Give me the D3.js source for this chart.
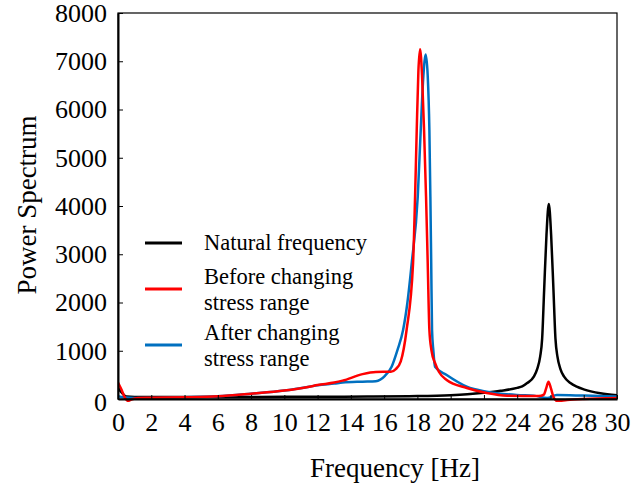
<!DOCTYPE html>
<html lang="en">
<head>
<meta charset="utf-8">
<title>Power Spectrum</title>
<script src="https://d3js.org/d3.v7.min.js"></script>
<style>
    body { margin: 0; background: #fff; }
    text { font-family: "Liberation Serif", "Times New Roman", serif; fill: #000; }
</style>
</head>
<body>
<div id="chart"></div>
<script>
    const w = 644;
    const h = 488;
    const margin = { top: 13, right: 27, bottom: 89, left: 118 };

    // frequency [Hz] and power values
    const naturalFreq = [0, 0.25, 0.5, 1, 5, 10, 15, 18, 20, 21, 22, 23, 24, 24.3, 24.6, 25, 25.2, 25.38, 25.5, 25.62, 25.76, 25.9, 26.04, 26.18, 26.3, 26.42, 26.6, 26.82, 27.2, 27.58, 28, 29, 30];
    const naturalPower = [230, 120, 50, 40, 40, 45, 50, 60, 80, 100, 130, 170, 230, 260, 330, 462, 620, 877, 1250, 2260, 3400, 4040, 3400, 2260, 1250, 877, 620, 462, 330, 255, 200, 120, 80];

    const beforeFreq = [0, 0.2, 0.4, 0.6, 0.8, 1.2, 2, 4, 6, 8, 10, 11.5, 12, 13, 13.5, 14.7, 15.5, 16.4, 16.7, 17.0, 17.35, 17.74, 17.86, 17.96, 18.06, 18.16, 18.28, 18.4, 18.52, 18.62, 18.72, 18.85, 19.06, 19.3, 19.76, 20.97, 22.17, 23.4, 25.3, 25.6, 25.75, 25.88, 26.02, 26.18, 26.38, 27, 28, 30];
    const beforePower = [340, 200, 40, -40, -10, 20, 25, 35, 55, 110, 175, 255, 290, 340, 380, 515, 560, 565, 620, 780, 1430, 2820, 4190, 5575, 6800, 7250, 6700, 5575, 4190, 2820, 1430, 1000, 746, 560, 394, 228, 124, 68, 60, 90, 230, 360, 230, 40, -40, -20, 0, 20];

    const afterFreq = [0, 0.5, 1, 2, 4, 6, 8, 10, 11.5, 12, 13, 13.5, 14.7, 15.5, 16.05, 16.45, 16.8, 17.14, 17.4, 17.66, 18.02, 18.2, 18.36, 18.5, 18.62, 18.72, 18.78, 18.83, 18.88, 18.96, 19.06, 19.76, 20.97, 22.17, 23.97, 25.0, 25.8, 26.38, 28, 30];
    const afterPower = [60, 30, 20, 20, 35, 55, 110, 175, 255, 285, 320, 340, 360, 370, 480, 670, 1015, 1430, 2000, 2820, 4190, 5575, 6700, 7140, 6700, 5575, 4190, 2820, 1430, 1000, 670, 497, 255, 150, 83, 70, 20, 83, 70, 50];

    const xTicks = d3.range(0, 31, 2);
    const yTicks = d3.range(0, 8001, 1000);

    const series = [
        { name: ["Natural frequency"], color: "#000000", f: naturalFreq, p: naturalPower },
        { name: ["Before changing", "stress range"], color: "#ff0000", f: beforeFreq, p: beforePower },
        { name: ["After changing", "stress range"], color: "#0070c0", f: afterFreq, p: afterPower }
    ];

    const svg = d3.select("#chart")
        .append("svg")
        .attr("width", w)
        .attr("height", h);

    const xScale = d3.scaleLinear()
        .domain([0, 30])
        .range([margin.left, w - margin.right]);

    const yScale = d3.scaleLinear()
        .domain([0, 8000])
        .range([h - margin.bottom, margin.top]);

    // clip so the curves stay inside the frame
    svg.append("clipPath")
        .attr("id", "plot-clip")
        .append("rect")
        .attr("x", margin.left)
        .attr("y", margin.top)
        .attr("width", w - margin.left - margin.right)
        .attr("height", h - margin.top - margin.bottom + 3);

    const line = d3.line()
        .x(d => xScale(d[0]))
        .y(d => yScale(d[1]))
        .curve(d3.curveMonotoneX);

    // draw order: black, blue, red on top near the peak
    [series[0], series[2], series[1]].forEach(s => {
        svg.append("path")
            .datum(s.f.map((f, i) => [f, s.p[i]]))
            .attr("clip-path", "url(#plot-clip)")
            .attr("fill", "none")
            .attr("stroke", s.color)
            .attr("stroke-width", 2.5)
            .attr("stroke-linejoin", "round")
            .attr("d", line);
    });

    // frame
    svg.append("rect")
        .attr("x", margin.left)
        .attr("y", margin.top)
        .attr("width", w - margin.left - margin.right)
        .attr("height", h - margin.top - margin.bottom)
        .attr("fill", "none")
        .attr("stroke", "#000")
        .attr("stroke-width", 1.2);

    // axes with ticks pointing inward
    const xAxis = d3.axisBottom(xScale)
        .tickValues(xTicks)
        .tickSizeInner(-4)
        .tickSizeOuter(0)
        .tickPadding(14);

    const yAxis = d3.axisLeft(yScale)
        .tickValues(yTicks)
        .tickSizeInner(-5)
        .tickSizeOuter(0)
        .tickPadding(11)
        .tickFormat(d3.format("d"));

    const gx = svg.append("g")
        .attr("transform", `translate(0, ${h - margin.bottom})`)
        .call(xAxis);
    gx.select(".domain").attr("stroke-width", 2);
    gx.selectAll("text")
        .style("font-family", "'Liberation Serif', serif")
        .style("font-size", "26px");

    const gy = svg.append("g")
        .attr("transform", `translate(${margin.left}, 0)`)
        .call(yAxis);
    gy.select(".domain").attr("stroke-width", 2);
    gy.selectAll("text")
        .style("font-family", "'Liberation Serif', serif")
        .style("font-size", "26px");
    // the zero label sits a little lower in the original
    gy.selectAll(".tick text").filter(d => d === 0).attr("dy", "0.45em");

    // axis titles
    svg.append("text")
        .attr("x", 395)
        .attr("y", 477)
        .attr("text-anchor", "middle")
        .style("font-size", "27px")
        .text("Frequency [Hz]");

    svg.append("text")
        .attr("transform", "translate(36, 205) rotate(-90)")
        .attr("text-anchor", "middle")
        .style("font-size", "27px")
        .text("Power Spectrum");

    // legend
    const legendY = [243, 289, 345];
    series.forEach((s, i) => {
        svg.append("line")
            .attr("x1", 145)
            .attr("x2", 182)
            .attr("y1", legendY[i])
            .attr("y2", legendY[i])
            .attr("stroke", s.color)
            .attr("stroke-width", 3);

        const t = svg.append("text")
            .attr("x", 204)
            .style("font-size", "22.5px");
        const top = s.name.length === 1 ? legendY[i] + 7 : legendY[i] - 5;
        s.name.forEach((n, j) => {
            t.append("tspan")
                .attr("x", 204)
                .attr("y", top + j * 26)
                .text(n);
        });
    });
</script>
</body>
</html>
